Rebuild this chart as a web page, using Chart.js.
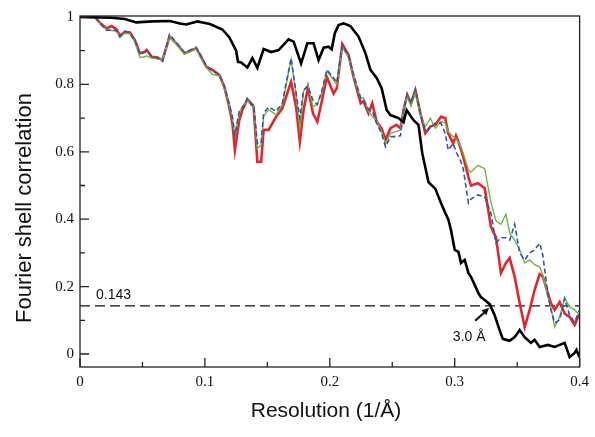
<!DOCTYPE html>
<html>
<head>
<meta charset="utf-8">
<script src="https://cdn.jsdelivr.net/npm/chart.js@4"></script>
<style>
  html, body { margin: 0; padding: 0; background: #fff; }
  #wrap { width: 595px; height: 437px; position: relative; }
</style>
</head>
<body>
<div id="wrap"><canvas id="fsc"></canvas></div>
<script>
// --- DATA ---
const xTicks = [0, 0.1, 0.2, 0.3, 0.4];
const xMinor = [0.05, 0.15, 0.25, 0.35];
const yTicks = [0, 0.2, 0.4, 0.6, 0.8, 1];
const yMinor = [0.1, 0.3, 0.5, 0.7, 0.9];
const threshold = 0.143;
const crossing = 0.33;   // where the black curve meets 0.143 (3.0 Å)

// black curve
const blackX = [0, 0.025, 0.036, 0.045, 0.058, 0.072, 0.08, 0.085, 0.094, 0.104, 0.114, 0.1195, 0.125, 0.1265,
  0.129, 0.134, 0.138, 0.142, 0.147, 0.153, 0.159, 0.167, 0.171, 0.177, 0.182, 0.187, 0.191, 0.195, 0.199,
  0.2015, 0.204, 0.207, 0.211, 0.2165, 0.223, 0.2285, 0.2325, 0.2375, 0.2415, 0.2455, 0.2485, 0.255, 0.259,
  0.2615, 0.267, 0.271, 0.274, 0.279, 0.2845, 0.289, 0.2925, 0.295, 0.297, 0.3, 0.303, 0.305, 0.308, 0.311,
  0.313, 0.316, 0.319, 0.321, 0.324, 0.328, 0.332, 0.336, 0.3385, 0.344, 0.348, 0.352, 0.356, 0.361, 0.364,
  0.368, 0.3745, 0.38, 0.388, 0.392, 0.396, 0.3975, 0.4];
const blackY = [1.0, 0.998, 0.994, 0.984, 0.987, 0.988, 0.981, 0.978, 0.987, 0.979, 0.963, 0.94, 0.9, 0.867,
  0.865, 0.85, 0.878, 0.849, 0.905, 0.896, 0.902, 0.934, 0.927, 0.862, 0.922, 0.922, 0.872, 0.909, 0.912,
  0.904, 0.952, 0.976, 0.981, 0.973, 0.942, 0.893, 0.843, 0.819, 0.789, 0.724, 0.709, 0.7, 0.688,
  0.724, 0.694, 0.68, 0.596, 0.51, 0.49, 0.448, 0.418, 0.398, 0.368, 0.309, 0.303, 0.27, 0.279, 0.24,
  0.229, 0.205, 0.18, 0.169, 0.16, 0.148, 0.115, 0.07, 0.045, 0.039, 0.05, 0.071, 0.05, 0.033, 0.042,
  0.021, 0.027, 0.021, 0.033, -0.009, 0.003, 0.012, -0.01];

// coloured curves share the same shells
const shellX = [0, 0.012, 0.016, 0.0213, 0.0253, 0.0293, 0.032, 0.036, 0.04, 0.044, 0.048, 0.052, 0.0534, 0.0574,
  0.062, 0.066, 0.0717, 0.077, 0.0837, 0.093, 0.097, 0.101, 0.106, 0.1116, 0.1155, 0.1195, 0.122, 0.124,
  0.1275, 0.13, 0.134, 0.137, 0.139, 0.142, 0.145, 0.147, 0.151, 0.157, 0.162, 0.169, 0.173, 0.176, 0.179,
  0.1825, 0.1865, 0.19, 0.1936, 0.1976, 0.203, 0.2056, 0.21, 0.215, 0.219, 0.2247, 0.227, 0.231, 0.234,
  0.2375, 0.2414, 0.2446, 0.2486, 0.2534, 0.2566, 0.259, 0.262, 0.265, 0.2685, 0.2725, 0.2765, 0.2805,
  0.2845, 0.289, 0.2924, 0.2948, 0.2988, 0.301, 0.3044, 0.3068, 0.311, 0.313, 0.3187, 0.324, 0.329, 0.333,
  0.337, 0.341, 0.344, 0.348, 0.352, 0.356, 0.36, 0.364, 0.368, 0.3705, 0.3745, 0.377, 0.38, 0.384, 0.388,
  0.392, 0.396, 0.4];
const redY = [1.0, 1.0, 0.983, 0.966, 0.973, 0.963, 0.944, 0.956, 0.954, 0.931, 0.892, 0.897, 0.902, 0.882,
  0.88, 0.872, 0.942, 0.922, 0.892, 0.907, 0.882, 0.853, 0.843, 0.828, 0.793, 0.734, 0.685, 0.605,
  0.694, 0.724, 0.756, 0.744, 0.733, 0.57, 0.57, 0.665, 0.665, 0.704, 0.729, 0.808, 0.733, 0.63, 0.724,
  0.79, 0.714, 0.689, 0.75, 0.822, 0.773, 0.789, 0.92, 0.887, 0.822, 0.744, 0.75, 0.714, 0.744,
  0.689, 0.67, 0.635, 0.67, 0.68, 0.67, 0.724, 0.769, 0.744, 0.783, 0.714, 0.655, 0.675,
  0.68, 0.704, 0.7, 0.655, 0.625, 0.648, 0.615, 0.585, 0.525, 0.5, 0.507, 0.492, 0.377, 0.347,
  0.24, 0.27, 0.285, 0.229, 0.151, 0.08, 0.131, 0.19, 0.237, 0.23, 0.181, 0.151, 0.131, 0.154, 0.12,
  0.11, 0.086, 0.12];
const greenY = [1.0, 1.0, 0.98, 0.962, 0.96, 0.958, 0.94, 0.952, 0.95, 0.925, 0.88, 0.882, 0.885, 0.878,
  0.876, 0.874, 0.942, 0.92, 0.89, 0.905, 0.876, 0.85, 0.83, 0.825, 0.79, 0.74, 0.7, 0.645,
  0.715, 0.735, 0.752, 0.74, 0.735, 0.61, 0.62, 0.705, 0.725, 0.71, 0.74, 0.874, 0.77, 0.67, 0.78,
  0.8, 0.733, 0.742, 0.775, 0.84, 0.813, 0.8, 0.91, 0.88, 0.825, 0.759, 0.76, 0.72, 0.705,
  0.69, 0.66, 0.625, 0.655, 0.66, 0.665, 0.725, 0.765, 0.735, 0.775, 0.71, 0.675, 0.7,
  0.67, 0.69, 0.685, 0.66, 0.645, 0.64, 0.62, 0.596, 0.546, 0.54, 0.56, 0.55, 0.45, 0.395,
  0.385, 0.415, 0.359, 0.338, 0.309, 0.27, 0.279, 0.265, 0.258, 0.235, 0.17, 0.14, 0.08, 0.11, 0.166,
  0.14, 0.131, 0.116];
const blueY = [1.0, 1.0, 0.98, 0.96, 0.962, 0.96, 0.942, 0.958, 0.952, 0.93, 0.89, 0.895, 0.9, 0.884,
  0.878, 0.868, 0.948, 0.925, 0.895, 0.91, 0.884, 0.855, 0.84, 0.83, 0.795, 0.742, 0.705, 0.65,
  0.72, 0.73, 0.757, 0.74, 0.74, 0.625, 0.625, 0.714, 0.733, 0.72, 0.745, 0.878, 0.775, 0.7, 0.783,
  0.795, 0.753, 0.74, 0.78, 0.843, 0.82, 0.805, 0.915, 0.885, 0.83, 0.76, 0.755, 0.725, 0.72,
  0.685, 0.655, 0.615, 0.645, 0.645, 0.648, 0.724, 0.77, 0.744, 0.785, 0.714, 0.66, 0.67,
  0.685, 0.685, 0.655, 0.605, 0.625, 0.6, 0.576, 0.55, 0.448, 0.46, 0.472, 0.466, 0.418, 0.329,
  0.345, 0.345, 0.338, 0.385, 0.3, 0.279, 0.3, 0.309, 0.329, 0.294, 0.18, 0.131, 0.092, 0.101, 0.165,
  0.115, 0.095, 0.131];

function pts(xs, ys) {
    return xs.map((x, i) => ({ x: x, y: ys[i] }));
}

function fmt(v) {
    if (v === 0 || v === 1) return String(v);
    return v.toFixed(1);
}

// --- frame, inward ticks, titles and annotations ---
const framePlugin = {
    id: 'frame',
    afterDatasetsDraw(chart) {
        const { ctx, chartArea: a, scales: { x, y } } = chart;
        ctx.save();
        ctx.strokeStyle = '#222';
        ctx.lineWidth = 1.3;
        ctx.strokeRect(a.left, a.top, a.right - a.left, a.bottom - a.top);

        ctx.beginPath();
        xTicks.forEach(v => { const px = x.getPixelForValue(v); ctx.moveTo(px, a.bottom); ctx.lineTo(px, a.bottom - 9); });
        xMinor.forEach(v => { const px = x.getPixelForValue(v); ctx.moveTo(px, a.bottom); ctx.lineTo(px, a.bottom - 5); });
        yTicks.forEach(v => { const py = y.getPixelForValue(v); ctx.moveTo(a.left, py); ctx.lineTo(a.left + 9, py); });
        yMinor.forEach(v => { const py = y.getPixelForValue(v); ctx.moveTo(a.left, py); ctx.lineTo(a.left + 5, py); });
        ctx.stroke();

        // threshold label
        ctx.fillStyle = '#111';
        ctx.font = '14px "Liberation Sans", Arial, sans-serif';
        ctx.textBaseline = 'alphabetic';
        ctx.textAlign = 'left';
        ctx.fillText('0.143', x.getPixelForValue(0.0128), y.getPixelForValue(threshold) - 7);

        // arrow to the 3.0 Å crossing
        const tx = x.getPixelForValue(crossing) - 3, ty = y.getPixelForValue(threshold) + 2;
        const sx = tx - 14, sy = ty + 13;
        ctx.lineWidth = 2.2;
        ctx.strokeStyle = '#111';
        ctx.beginPath(); ctx.moveTo(sx, sy); ctx.lineTo(tx - 4, ty + 4); ctx.stroke();
        const ang = Math.atan2(ty - sy, tx - sx);
        ctx.beginPath();
        ctx.moveTo(tx, ty);
        ctx.lineTo(tx - 8 * Math.cos(ang - 0.45), ty - 8 * Math.sin(ang - 0.45));
        ctx.lineTo(tx - 8 * Math.cos(ang + 0.45), ty - 8 * Math.sin(ang + 0.45));
        ctx.closePath(); ctx.fill();
        ctx.textAlign = 'center';
        ctx.fillText('3.0 Å', sx - 6, sy + 20);

        // axis titles
        ctx.font = '21px "Liberation Sans", Arial, sans-serif';
        ctx.textBaseline = 'middle';
        ctx.fillText('Resolution (1/Å)', 326, 411);
        ctx.translate(25, 208);
        ctx.rotate(-Math.PI / 2);
        ctx.font = '22px "Liberation Sans", Arial, sans-serif';
        ctx.fillText('Fourier shell correlation', 0, 0);
        ctx.restore();
    }
};

const tickFont = { family: '"Liberation Serif", "Times New Roman", serif', size: 15 };

new Chart(document.getElementById('fsc'), {
    type: 'line',
    data: {
        datasets: [
            { label: '0.143', data: pts([0, 0.4], [threshold, threshold]), borderColor: '#111', borderWidth: 1.3, borderDash: [10, 5], order: 5 },
            { label: 'red', data: pts(shellX, redY), borderColor: '#e3262b', borderWidth: 2.6, order: 4 },
            { label: 'green', data: pts(shellX, greenY), borderColor: '#72b443', borderWidth: 1.4, order: 3 },
            { label: 'blue', data: pts(shellX, blueY), borderColor: '#2f57a8', borderWidth: 1.6, borderDash: [5, 3], order: 2 },
            { label: 'black', data: pts(blackX, blackY), borderColor: '#000', borderWidth: 2.6, order: 1 }
        ]
    },
    options: {
        responsive: true,
        maintainAspectRatio: false,
        animation: false,
        parsing: true,
        elements: { point: { radius: 0 }, line: { tension: 0, fill: false } },
        layout: { padding: { top: 16, right: 13, left: 0, bottom: 0 } },
        scales: {
            x: {
                type: 'linear', min: 0, max: 0.4,
                afterBuildTicks: s => { s.ticks = xTicks.map(v => ({ value: v })); },
                afterFit: s => { s.height = 70; },
                grid: { display: false, drawTicks: false },
                border: { display: false },
                ticks: { color: '#111', font: tickFont, padding: 6, callback: fmt, maxRotation: 0 }
            },
            y: {
                type: 'linear', min: -0.0386, max: 1.003,
                afterBuildTicks: s => { s.ticks = yTicks.map(v => ({ value: v })); },
                afterFit: s => { s.width = 80; },
                grid: { display: false, drawTicks: false },
                border: { display: false },
                ticks: { color: '#111', font: tickFont, padding: 6, callback: fmt }
            }
        },
        plugins: { legend: { display: false }, tooltip: { enabled: false } }
    },
    plugins: [framePlugin]
});
</script>
</body>
</html>
